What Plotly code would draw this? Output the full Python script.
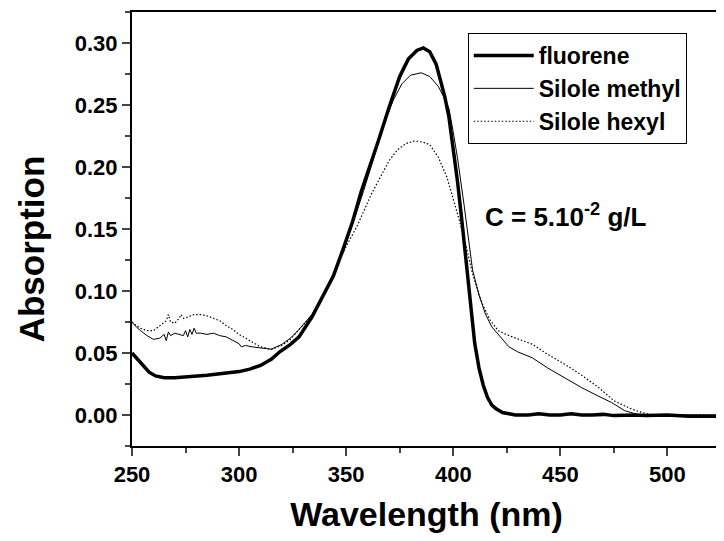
import plotly.graph_objects as go

# ---- data ----
fluorene_x = [250, 252, 255, 258, 261, 265, 270, 275, 280, 285, 290, 295, 300, 305, 310, 315, 319, 324, 328,
              334, 339, 344, 348, 353, 357, 361, 365, 370, 375, 379, 383, 386, 389, 392, 396, 398, 400, 402,
              404, 406, 408, 410, 412, 414, 416, 418, 420, 423, 426, 429, 435, 440, 445, 450, 455, 460, 465,
              470, 475, 480, 485, 490, 495, 500, 510, 525]
fluorene_y = [0.050, 0.046, 0.040, 0.0345, 0.0315, 0.030, 0.030, 0.0305, 0.031, 0.032, 0.033, 0.034, 0.035,
              0.037, 0.040, 0.045, 0.051, 0.057, 0.063, 0.079, 0.095, 0.112, 0.131, 0.156, 0.180, 0.200,
              0.221, 0.248, 0.273, 0.287, 0.294, 0.296, 0.293, 0.283, 0.257, 0.240, 0.215, 0.188, 0.157,
              0.126, 0.090, 0.058, 0.038, 0.024, 0.014, 0.008, 0.005, 0.002, 0.001, 0.000, 0.000, 0.001,
              0.000, 0.000, 0.001, 0.000, 0.000, 0.0005, -0.0005, 0.000, 0.000, -0.0005, 0.000, 0.000,
              -0.001, -0.001]

methyl_x = [250, 252, 254, 257, 260, 263, 265, 266, 267, 268, 270, 272, 274, 275, 276, 277, 278, 279, 280,
            282, 285, 288, 291, 294, 297, 299, 300, 301, 303, 306, 310, 315, 320, 324, 328, 334, 339, 344,
            348, 353, 358, 362, 368, 372, 376, 380, 385, 389, 393, 396, 398, 400, 402, 405, 407, 409, 412,
            415, 418, 422, 426, 430, 437, 444, 452, 460, 468, 474, 480, 486, 490, 495, 500, 510, 525]
methyl_y = [0.075, 0.071, 0.068, 0.064, 0.061, 0.062, 0.065, 0.060, 0.067, 0.064, 0.066, 0.065, 0.064,
            0.068, 0.063, 0.069, 0.065, 0.070, 0.066, 0.066, 0.065, 0.066, 0.064, 0.063, 0.060, 0.058,
            0.0575, 0.055, 0.056, 0.055, 0.054, 0.053, 0.057, 0.062, 0.069, 0.081, 0.096, 0.113, 0.130,
            0.154, 0.180, 0.202, 0.236, 0.254, 0.267, 0.274, 0.276, 0.273, 0.265, 0.255, 0.247, 0.228,
            0.207, 0.170, 0.145, 0.117, 0.097, 0.0815, 0.071, 0.063, 0.055, 0.051, 0.046, 0.038, 0.030,
            0.022, 0.015, 0.010, 0.0035, 0.0005, 0.000, 0.000, 0.000, 0.000, 0.000]

hexyl_x = [250, 252, 254, 257, 260, 263, 265, 266, 267, 268, 270, 272, 273, 274, 276, 279, 282, 285, 288,
           291, 294, 297, 300, 305, 310, 315, 320, 324, 328, 334, 340, 345, 350, 355, 358, 362, 366, 370,
           374, 378, 382, 386, 389, 393, 397, 400, 403, 406, 409, 412, 414, 417, 421, 426, 429, 437, 444,
           452, 460, 468, 475, 483, 488, 493, 500, 510, 525]
hexyl_y = [0.075, 0.072, 0.070, 0.068, 0.068, 0.072, 0.074, 0.076, 0.081, 0.075, 0.074, 0.078, 0.081,
           0.078, 0.079, 0.081, 0.081, 0.080, 0.078, 0.076, 0.072, 0.069, 0.065, 0.060, 0.055, 0.053,
           0.056, 0.061, 0.069, 0.080, 0.099, 0.118, 0.136, 0.152, 0.163, 0.179, 0.192, 0.205, 0.214,
           0.219, 0.221, 0.220, 0.218, 0.208, 0.192, 0.175, 0.156, 0.136, 0.114, 0.097, 0.088, 0.077,
           0.068, 0.064, 0.062, 0.057, 0.049, 0.041, 0.032, 0.022, 0.0115, 0.005, 0.002, 0.000, 0.000,
           0.000, 0.000]

series_names = ["fluorene", "Silole methyl", "Silole hexyl"]
x_range = [250, 525]
y_range = [-0.025, 0.325]

FONT = "Liberation Sans, Arial, sans-serif"

fig = go.Figure()
fig.add_trace(go.Scatter(x=fluorene_x, y=fluorene_y, mode="lines", name=series_names[0],
                         line=dict(color="black", width=3.5)))
fig.add_trace(go.Scatter(x=methyl_x, y=methyl_y, mode="lines", name=series_names[1],
                         line=dict(color="black", width=1)))
fig.add_trace(go.Scatter(x=hexyl_x, y=hexyl_y, mode="lines", name=series_names[2],
                         line=dict(color="black", width=1.2, dash="1.5px,2px")))

tickfont = dict(family=FONT, size=22, color="black", weight="bold")

# page body has an 8px margin: figure is shrunk / margins reduced to compensate
fig.update_layout(
    width=716, height=533,
    margin=dict(l=124, r=1, t=4, b=95),
    paper_bgcolor="white", plot_bgcolor="white",
    font=dict(family=FONT, color="black"),
    showlegend=True,
    legend=dict(x=0.570, y=0.9516, xanchor="left", yanchor="top",
                bgcolor="white", bordercolor="black", borderwidth=1,
                font=dict(family=FONT, size=23, color="black", weight="bold"),
                itemwidth=60, tracegroupgap=0),
    xaxis=dict(range=x_range, dtick=50, tick0=250, ticks="outside", ticklen=8, tickwidth=2,
               showline=True, linewidth=2, linecolor="black", mirror=True,
               showgrid=False, zeroline=False, tickfont=tickfont,
               minor=dict(dtick=25, ticks="outside", ticklen=5, tickwidth=1.5, showgrid=False),
               title=dict(text="Wavelength (nm)", standoff=16,
                          font=dict(family=FONT, size=34, color="black", weight="bold"))),
    yaxis=dict(range=y_range, dtick=0.05, tick0=0, ticks="outside", ticklen=8, tickwidth=2,
               tickformat=".2f",
               showline=True, linewidth=2, linecolor="black", mirror=True,
               showgrid=False, zeroline=False, tickfont=tickfont,
               minor=dict(dtick=0.025, ticks="outside", ticklen=5, tickwidth=1.5, showgrid=False)),
    xaxis2=dict(overlaying="x", matches="x", side="top", range=x_range, dtick=50, tick0=250,
                ticks="inside", ticklen=8, tickwidth=1.5, showticklabels=False, showline=False,
                showgrid=False, zeroline=False,
                minor=dict(dtick=25, ticks="inside", ticklen=5, tickwidth=1.5, showgrid=False)),
    yaxis2=dict(overlaying="y", matches="y", side="right", range=y_range, dtick=0.05, tick0=0,
                ticks="inside", ticklen=7, tickwidth=1.5, showticklabels=False, showline=False,
                showgrid=False, zeroline=False,
                minor=dict(dtick=0.025, ticks="inside", ticklen=7, tickwidth=1.5, showgrid=False)),
    annotations=[
        dict(text="Absorption", x=(31 - 132) / 591, y=0.5 - (249 - 229) / 434,
             xref="paper", yref="paper", xanchor="center", yanchor="middle",
             showarrow=False, textangle=-90,
             font=dict(family=FONT, size=35, color="black", weight="bold")),
        dict(text="C = 5.10<sup>-2</sup> g/L", x=0.736, y=0.532, xref="paper", yref="paper",
             xanchor="center", yanchor="middle", showarrow=False,
             font=dict(family=FONT, size=26, color="black", weight="bold")),
    ],
)

fig.write_html("out.html")
